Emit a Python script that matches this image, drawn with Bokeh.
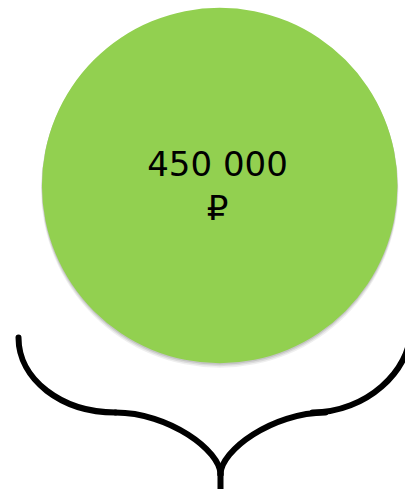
from bokeh.plotting import figure
from bokeh.models import Range1d, ColumnDataSource
from bokeh.core.properties import value
from bokeh.embed import file_html
from bokeh.resources import INLINE

# ---- data ----
amount_value = [450000]
label_lines = ["450 000", "₽"]

# ---- layout (page pixel coordinates) ----
W, H = 405, 489
X0, Y0 = 0, 0
circle_cx, circle_cy, circle_d = 219.2, 185.0, 355.5
text_x = 217
text_baselines = [163.5, 207]
green = "#92D050"

p = figure(width=W, height=H, output_backend="svg", toolbar_location=None,
           x_range=Range1d(X0, X0 + W), y_range=Range1d(Y0 + H, Y0),
           min_border=0, background_fill_color="white",
           border_fill_color="white", outline_line_color=None)
p.xaxis.visible = False
p.yaxis.visible = False
p.grid.visible = False

# soft shadow
for dy, dd, a in [(3.5, 2.0, 0.12), (2.5, 1.0, 0.18), (1.2, 0.5, 0.25)]:
    p.ellipse(x=[circle_cx], y=[circle_cy + dy], width=[circle_d + dd],
              height=[circle_d + dd], fill_color="#7f7f7f", fill_alpha=a,
              line_color=None)

# main circle
p.ellipse(x=[circle_cx], y=[circle_cy], width=[circle_d], height=[circle_d],
          fill_color=green, line_color=None)

# text
src = ColumnDataSource(dict(x=[text_x] * len(label_lines), y=text_baselines,
                            t=label_lines))
p.text(x="x", y="y", text="t", source=src, text_align="center",
       text_baseline="alphabetic", text_font=value("DejaVu Sans"),
       text_font_size="34px", text_color="black")

# curly brace (decorative, cubic bezier segments)
brace = dict(
    x0=[18, 115, 220, 312],
    y0=[337, 412, 474, 412],
    cx0=[18, 168, 220, 366],
    cy0=[379, 412, 450, 412],
    cx1=[61, 220, 272, 410],
    cy1=[412, 450, 412, 370],
    x1=[115, 220, 325, 410],
    y1=[412, 474, 412, 330],
)
p.bezier(source=ColumnDataSource(brace), x0="x0", y0="y0", x1="x1", y1="y1",
         cx0="cx0", cy0="cy0", cx1="cx1", cy1="cy1",
         line_color="black", line_width=6, line_cap="round")
p.segment(x0=[220], y0=[472], x1=[220], y1=[495], line_color="black",
          line_width=6)

open("out.html", "w").write(file_html(p, INLINE))
